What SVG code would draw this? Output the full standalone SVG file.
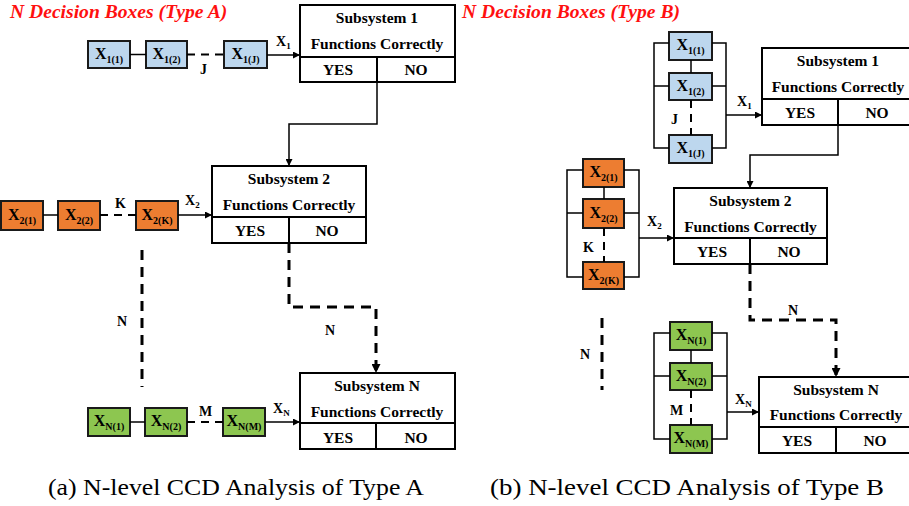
<svg xmlns="http://www.w3.org/2000/svg" width="909" height="506" viewBox="0 0 909 506">
  <style>
    .title { font-family: "Liberation Serif", serif; font-weight: bold; font-style: italic; font-size: 19.6px; fill: #ff1010; }
    .sub { fill: #fff; stroke: #000; stroke-width: 2; }
    .sl { stroke: #000; stroke-width: 2; fill: none; }
    .st { font-family: "Liberation Serif", serif; font-weight: bold; font-size: 15.5px; fill: #000; text-anchor: middle; }
    .xb { stroke: #1a1a1a; stroke-width: 2; }
    .blue { fill: #bdd7ee; }
    .orange { fill: #ed7d31; }
    .green { fill: #8dc650; }
    .xt { font-family: "Liberation Serif", serif; font-weight: bold; font-size: 16px; fill: #000; text-anchor: middle; }
    .xs { font-size: 10px; }
    .lbl { font-family: "Liberation Serif", serif; font-weight: bold; font-size: 14px; fill: #000; }
    .ls { font-size: 9px; }
    .wire { stroke: #000; stroke-width: 1.5; fill: none; }
    .wdash { stroke: #000; stroke-width: 2; fill: none; stroke-dasharray: 8 6; }
    .bigdash { stroke: #000; stroke-width: 3; fill: none; stroke-dasharray: 10 7; }
    .cap { font-family: "Liberation Serif", serif; font-size: 23px; fill: #000; }
  </style>
  <defs>
    <marker id="arr" viewBox="0 0 10 10" refX="10" refY="5" markerWidth="7" markerHeight="7" markerUnits="userSpaceOnUse" orient="auto">
      <path d="M0,0 L10,5 L0,10 z" fill="#000"/>
    </marker>
    <marker id="arrBig" viewBox="0 0 10 10" refX="10" refY="5" markerWidth="9" markerHeight="9" markerUnits="userSpaceOnUse" orient="auto">
      <path d="M0,0 L10,5 L0,10 z" fill="#000"/>
    </marker>
  </defs>

  <!-- Panel titles -->
  <text class="title" x="10" y="18">N Decision Boxes (Type A)</text>
  <text class="title" x="462" y="18">N Decision Boxes (Type B)</text>

  <!-- ===== Type A subsystems ===== -->
  <g id="a-sub1">
    <rect class="sub" x="300" y="5" width="155" height="77"/>
    <path class="sl" d="M300,57 H455 M377,57 V82"/>
    <text class="st" x="377" y="23">Subsystem 1</text>
    <text class="st" x="377" y="49">Functions Correctly</text>
    <text class="st" x="338" y="75">YES</text>
    <text class="st" x="416" y="75">NO</text>
  </g>
  <g id="a-sub2">
    <rect class="sub" x="212" y="166" width="154" height="77"/>
    <path class="sl" d="M212,217 H366 M289,217 V243"/>
    <text class="st" x="289" y="184">Subsystem 2</text>
    <text class="st" x="289" y="210">Functions Correctly</text>
    <text class="st" x="250" y="236">YES</text>
    <text class="st" x="327" y="236">NO</text>
  </g>
  <g id="a-subN">
    <rect class="sub" x="300" y="373" width="155" height="76"/>
    <path class="sl" d="M300,423 H455 M376,423 V449"/>
    <text class="st" x="377" y="391">Subsystem N</text>
    <text class="st" x="377" y="417">Functions Correctly</text>
    <text class="st" x="338" y="443">YES</text>
    <text class="st" x="416" y="443">NO</text>
  </g>

  <!-- ===== Type A decision boxes ===== -->
  <g id="a-x1-1"><rect class="xb blue" x="88" y="41" width="42" height="27"/><text class="xt" x="109" y="59">X<tspan class="xs" dy="4">1(1)</tspan></text></g>
  <g id="a-x1-2"><rect class="xb blue" x="146" y="41" width="41" height="27"/><text class="xt" x="166.5" y="59">X<tspan class="xs" dy="4">1(2)</tspan></text></g>
  <g id="a-x1-j"><rect class="xb blue" x="224" y="41" width="43" height="27"/><text class="xt" x="245.5" y="59">X<tspan class="xs" dy="4">1(J)</tspan></text></g>

  <g id="a-x2-1"><rect class="xb orange" x="1" y="201" width="42" height="29"/><text class="xt" x="22" y="220">X<tspan class="xs" dy="4">2(1)</tspan></text></g>
  <g id="a-x2-2"><rect class="xb orange" x="58" y="201" width="42" height="29"/><text class="xt" x="79" y="220">X<tspan class="xs" dy="4">2(2)</tspan></text></g>
  <g id="a-x2-k"><rect class="xb orange" x="136" y="201" width="42" height="29"/><text class="xt" x="157" y="220">X<tspan class="xs" dy="4">2(K)</tspan></text></g>

  <g id="a-xn-1"><rect class="xb green" x="88" y="408" width="42" height="28"/><text class="xt" x="109" y="426">X<tspan class="xs" dy="4">N(1)</tspan></text></g>
  <g id="a-xn-2"><rect class="xb green" x="145" y="408" width="42" height="28"/><text class="xt" x="166" y="426">X<tspan class="xs" dy="4">N(2)</tspan></text></g>
  <g id="a-xn-m"><rect class="xb green" x="223" y="408" width="42" height="28"/><text class="xt" x="244" y="426">X<tspan class="xs" dy="4">N(M)</tspan></text></g>

  <!-- ===== Type B subsystems ===== -->
  <g id="b-sub1">
    <rect class="sub" x="762" y="48" width="155" height="77"/>
    <path class="sl" d="M762,99 H917 M838,99 V125"/>
    <text class="st" x="838" y="66">Subsystem 1</text>
    <text class="st" x="838" y="92">Functions Correctly</text>
    <text class="st" x="800" y="118">YES</text>
    <text class="st" x="877" y="118">NO</text>
  </g>
  <g id="b-sub2">
    <rect class="sub" x="674" y="188" width="153" height="76"/>
    <path class="sl" d="M674,238 H827 M750,238 V264"/>
    <text class="st" x="750.5" y="206">Subsystem 2</text>
    <text class="st" x="750.5" y="232">Functions Correctly</text>
    <text class="st" x="712" y="257">YES</text>
    <text class="st" x="789" y="257">NO</text>
  </g>
  <g id="b-subN">
    <rect class="sub" x="759" y="377" width="155" height="76"/>
    <path class="sl" d="M759,427 H914 M836,427 V453"/>
    <text class="st" x="836" y="395">Subsystem N</text>
    <text class="st" x="836" y="420">Functions Correctly</text>
    <text class="st" x="797" y="446">YES</text>
    <text class="st" x="875" y="446">NO</text>
  </g>

  <!-- ===== Type B decision boxes ===== -->
  <g id="b-x1-1"><rect class="xb blue" x="669" y="32" width="43" height="28"/><text class="xt" x="690.5" y="50">X<tspan class="xs" dy="4">1(1)</tspan></text></g>
  <g id="b-x1-2"><rect class="xb blue" x="669" y="73" width="43" height="27"/><text class="xt" x="690.5" y="91">X<tspan class="xs" dy="4">1(2)</tspan></text></g>
  <g id="b-x1-j"><rect class="xb blue" x="669" y="135" width="43" height="28"/><text class="xt" x="690.5" y="153">X<tspan class="xs" dy="4">1(J)</tspan></text></g>

  <g id="b-x2-1"><rect class="xb orange" x="583" y="159" width="41" height="28"/><text class="xt" x="603.5" y="177">X<tspan class="xs" dy="4">2(1)</tspan></text></g>
  <g id="b-x2-2"><rect class="xb orange" x="583" y="199" width="41" height="29"/><text class="xt" x="603.5" y="218">X<tspan class="xs" dy="4">2(2)</tspan></text></g>
  <g id="b-x2-k"><rect class="xb orange" x="583" y="262" width="41" height="27"/><text class="xt" x="603.5" y="280">X<tspan class="xs" dy="4">2(K)</tspan></text></g>

  <g id="b-xn-1"><rect class="xb green" x="670" y="322" width="42" height="28"/><text class="xt" x="691" y="340">X<tspan class="xs" dy="4">N(1)</tspan></text></g>
  <g id="b-xn-2"><rect class="xb green" x="670" y="363" width="42" height="27"/><text class="xt" x="691" y="381">X<tspan class="xs" dy="4">N(2)</tspan></text></g>
  <g id="b-xn-m"><rect class="xb green" x="670" y="425" width="42" height="28"/><text class="xt" x="691" y="443">X<tspan class="xs" dy="4">N(M)</tspan></text></g>

  <!-- ===== Connectors ===== -->
  <g id="connectors">
    <!-- Type A, row 1 -->
    <path class="wire" d="M130,54.5 H146"/>
    <path class="wdash" d="M187,54.5 H224" stroke-dasharray="6 9 9 9"/>
    <path class="wire" d="M267,55 H300" marker-end="url(#arr)"/>
    <path class="wire" d="M377,82 V124 H289 V166" marker-end="url(#arr)"/>
    <!-- Type A, row 2 -->
    <path class="wire" d="M43,215 H58"/>
    <path class="wdash" d="M100,215 H136" stroke-dasharray="6 9 9 9"/>
    <path class="wire" d="M178,215 H212" marker-end="url(#arr)"/>
    <path class="bigdash" d="M289,243 V307 H376 V373" marker-end="url(#arrBig)"/>
    <path class="bigdash" d="M142,250 V387"/>
    <!-- Type A, row N -->
    <path class="wire" d="M130,422 H145"/>
    <path class="wdash" d="M187,422 H223" stroke-dasharray="6 9 9 9"/>
    <path class="wire" d="M265,422 H300" marker-end="url(#arr)"/>

    <!-- Type B, group 1 -->
    <path class="wire" d="M669,43 H654 V148 H669 M654,86 H669"/>
    <path class="wire" d="M712,43 H726 V148 H712 M712,86 H726"/>
    <path class="wire" d="M691,60 V73"/>
    <path class="wdash" d="M691,100 V135" stroke-dasharray="7 7"/>
    <path class="wire" d="M726,115 H762" marker-end="url(#arr)"/>
    <path class="wire" d="M838,125 V155 H750 V188" marker-end="url(#arr)"/>
    <!-- Type B, group 2 -->
    <path class="wire" d="M583,170 H567 V277 H583 M567,213 H583"/>
    <path class="wire" d="M624,170 H639 V277 H624 M624,213 H639"/>
    <path class="wire" d="M604,187 V199"/>
    <path class="wdash" d="M604,228 V262" stroke-dasharray="7 7"/>
    <path class="wire" d="M639,238 H674" marker-end="url(#arr)"/>
    <path class="bigdash" d="M750,264 V320 H836 V377" marker-end="url(#arrBig)"/>
    <path class="bigdash" d="M602,318 V390"/>
    <!-- Type B, group N -->
    <path class="wire" d="M670,333 H654 V439 H670 M654,376 H670"/>
    <path class="wire" d="M712,333 H727 V439 H712 M712,376 H727"/>
    <path class="wire" d="M691,350 V363"/>
    <path class="wdash" d="M691,390 V425" stroke-dasharray="7 7"/>
    <path class="wire" d="M727,412 H759" marker-end="url(#arr)"/>
  </g>

  <!-- Connector labels -->
  <g id="labels">
    <text class="lbl" x="276" y="46">X<tspan class="ls" dy="3">1</tspan></text>
    <text class="lbl" x="185" y="205">X<tspan class="ls" dy="3">2</tspan></text>
    <text class="lbl" x="273" y="413">X<tspan class="ls" dy="3">N</tspan></text>
    <text class="lbl" x="200" y="74">J</text>
    <text class="lbl" x="115" y="208">K</text>
    <text class="lbl" x="199" y="416">M</text>
    <text class="lbl" x="117" y="326">N</text>
    <text class="lbl" x="325" y="335">N</text>

    <text class="lbl" x="737" y="106">X<tspan class="ls" dy="3">1</tspan></text>
    <text class="lbl" x="647" y="226">X<tspan class="ls" dy="3">2</tspan></text>
    <text class="lbl" x="735" y="404">X<tspan class="ls" dy="3">N</tspan></text>
    <text class="lbl" x="671" y="124">J</text>
    <text class="lbl" x="583" y="252">K</text>
    <text class="lbl" x="670" y="415">M</text>
    <text class="lbl" x="580" y="359">N</text>
    <text class="lbl" x="788" y="315">N</text>
  </g>

  <!-- Captions -->
  <text class="cap" x="48" y="495" textLength="376" lengthAdjust="spacingAndGlyphs">(a) N-level CCD Analysis of Type A</text>
  <text class="cap" x="490" y="495" textLength="394" lengthAdjust="spacingAndGlyphs">(b) N-level CCD Analysis of Type B</text>
</svg>
